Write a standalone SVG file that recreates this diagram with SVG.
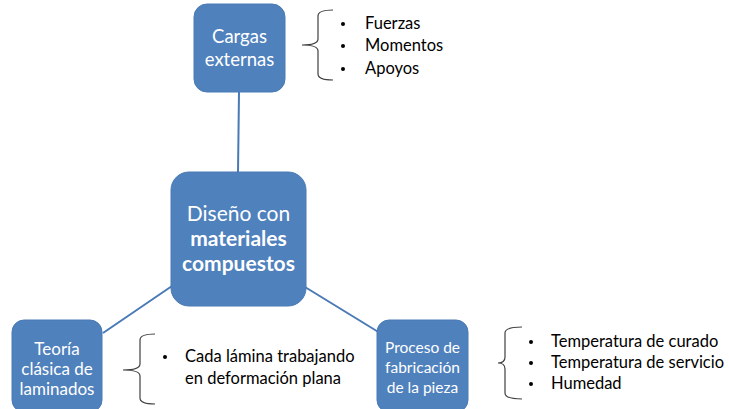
<svg xmlns="http://www.w3.org/2000/svg" width="729" height="409" viewBox="0 0 729 409">
<style>
.node{fill:#4F81BD;stroke:#4A7AB5;stroke-width:1}
.nt{fill:#ffffff;font-family:Lato,"Liberation Sans",sans-serif;text-anchor:middle}
.lt{fill:#000000;font-family:Lato,"Liberation Sans",sans-serif;font-size:16.5px}
.brace{fill:none;stroke:#404040;stroke-width:1.2}
.conn{stroke:#4A7AB5;stroke-width:2;fill:none}
</style>
<rect width="729" height="409" fill="#ffffff"/>
<g id="connectors">
<line class="conn" x1="239" y1="92" x2="238" y2="172"/>
<line class="conn" x1="172" y1="286" x2="103" y2="333"/>
<line class="conn" x1="305" y1="287" x2="380" y2="333"/>
</g>
<g id="cargas">
<rect class="node" x="194" y="4" width="91" height="88" rx="13"/>
<text class="nt" font-size="18.5" x="239.5" y="43">Cargas</text>
<text class="nt" font-size="18.5" x="239.5" y="66">externas</text>
</g>
<g id="cargas-list">
<path class="brace" d="M333,10 Q318,10 318,16 L318,39 Q318,45 302,45 Q318,45 318,51 L318,74 Q318,80 333,80"/>
<circle cx="343" cy="24" r="2"/><circle cx="343" cy="46" r="2"/><circle cx="343" cy="69" r="2"/>
<text class="lt" x="365" y="29">Fuerzas</text>
<text class="lt" x="365" y="51">Momentos</text>
<text class="lt" x="365" y="74">Apoyos</text>
</g>
<g id="diseno">
<rect class="node" x="171" y="172" width="135" height="134" rx="18"/>
<text class="nt" font-size="21" x="238.5" y="221">Diseño con</text>
<text class="nt" font-size="21" font-weight="bold" x="238.5" y="246">materiales</text>
<text class="nt" font-size="21" font-weight="bold" x="238.5" y="271">compuestos</text>
</g>
<g id="teoria">
<rect class="node" x="12" y="320" width="90" height="92" rx="12"/>
<text class="nt" font-size="17" x="57" y="355">Teoría</text>
<text class="nt" font-size="17" x="57" y="375">clásica de</text>
<text class="nt" font-size="17" x="57" y="395">laminados</text>
</g>
<g id="teoria-list">
<path class="brace" d="M155,334 Q140,334 140,340 L140,364 Q140,370 123,370 Q140,370 140,376 L140,398 Q140,404 155,404"/>
<circle cx="165" cy="357" r="2"/>
<text class="lt" x="185" y="362">Cada lámina trabajando</text>
<text class="lt" x="185" y="384">en deformación plana</text>
</g>
<g id="proceso">
<rect class="node" x="377" y="320" width="91" height="92" rx="12"/>
<text class="nt" font-size="15.5" x="422.5" y="353">Proceso de</text>
<text class="nt" font-size="15.5" x="422.5" y="373">fabricación</text>
<text class="nt" font-size="15.5" x="422.5" y="393">de la pieza</text>
</g>
<g id="proceso-list">
<path class="brace" d="M522,327 Q505,327 505,333 L505,357 Q505,363 498,363 Q505,363 505,369 L505,393 Q505,399 522,399"/>
<circle cx="531" cy="342" r="2"/><circle cx="531" cy="363" r="2"/><circle cx="531" cy="384" r="2"/>
<text class="lt" x="551" y="347">Temperatura de curado</text>
<text class="lt" x="551" y="368">Temperatura de servicio</text>
<text class="lt" x="551" y="389">Humedad</text>
</g>
</svg>
